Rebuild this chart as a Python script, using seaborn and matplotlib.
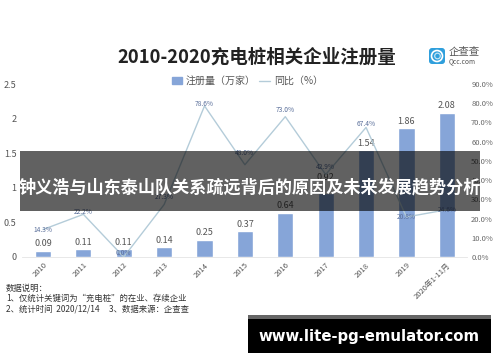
import pandas as pd
import matplotlib
matplotlib.use("Agg")
import matplotlib.pyplot as plt
from matplotlib.patches import Rectangle, Circle, FancyBboxPatch
import seaborn as sns

# data
anos = ["2010", "2011", "2012", "2013", "2014", "2015", "2016", "2017", "2018", "2019", "2020年1-11月"]
registros = [0.09, 0.11, 0.11, 0.14, 0.25, 0.37, 0.64, 0.92, 1.54, 1.86, 2.08]
rotulos = ["0.09", "0.11", "0.11", "0.14", "0.25", "0.37", "0.64", "0.92", "1.54", "1.86", "2.08"]
yoy = [14.3, 22.2, 0.0, 27.3, 78.6, 48.0, 73.0, 42.9, 67.4, 20.8, 24.6]
ticks_esq = [0, 0.5, 1, 1.5, 2, 2.5]
labels_esq = ["0", "0.5", "1", "1.5", "2", "2.5"]
ticks_dir = [0, 10, 20, 30, 40, 50, 60, 70, 80, 90]
notas = ["数据说明：", "1、仅统计关键词为“充电桩”的在业、存续企业", "2、统计时间  2020/12/14     3、数据来源：企查查"]

sns.set_theme(style="white")
plt.rcParams["font.family"] = ["Noto Sans CJK SC", "DejaVu Sans"]

W, H = 500, 362
fig = plt.figure(figsize=(W / 100, H / 100), dpi=100)
ax = fig.add_axes([22 / W, 1 - 257 / H, 445 / W, 173 / H])

df = pd.DataFrame({"ano": anos, "registros": registros})
sns.barplot(data=df, x="ano", y="registros", color="#86a5d8", saturation=1, width=0.4, ax=ax)
ax.set_xlim(-0.52, 10.5)
ax.set_ylim(0, 2.5)
ax.set_xlabel("")
ax.set_ylabel("")
ax.set_yticks(ticks_esq)
ax.set_yticklabels(labels_esq, fontsize=6.5, color="#555555")
ax.tick_params(axis="y", length=0, pad=4)
ax.tick_params(axis="x", length=0, pad=3)
ax.set_xticks(range(len(anos)))
ax.set_xticklabels(anos, rotation=45, ha="right", rotation_mode="anchor", fontsize=5.5, color="#555555")
sns.despine(ax=ax, left=True, right=True, top=True)
ax.spines["bottom"].set_color("#e4e4e4")
ax.spines["bottom"].set_linewidth(0.6)

# 2017 fica mais alto no original
for i, v in enumerate(registros):
    extra = 0.12 if i == 7 else 0
    ax.text(i, v + 0.04 + extra, rotulos[i], ha="center", va="bottom", fontsize=6.5, color="#555555", zorder=5)

ax2 = ax.twinx()
sns.lineplot(x=list(range(len(anos))), y=yoy, color="#b4ccd9", linewidth=1, ax=ax2)
ax2.set_ylim(0, 90)
ax2.set_yticks(ticks_dir)
ax2.set_yticklabels([f"{t}.0%" for t in ticks_dir], fontsize=5.5, color="#666666")
ax2.tick_params(axis="y", length=0, pad=3)
ax2.grid(False)
sns.despine(ax=ax2, left=True, right=True, top=True, bottom=True)

# deslocamento dos rotulos em pontos de pct
desloc = [0, 1, 2, 4, 1, 6, 3.5, 4, 2, 0, 0]
for i, v in enumerate(yoy):
    ax2.text(i, v + desloc[i], f"{v}%", ha="center", va="center", fontsize=4.8, color="#5a6f9a", zorder=5)

# titulo e legenda
fig.text(256.5 / W, 1 - 57 / H, "2010-2020充电桩相关企业注册量", ha="center", va="center",
         fontsize=13.3, fontweight="bold", color="#222222")
fig.add_artist(Rectangle((172 / W, 1 - 84 / H), 10 / W, 7 / H, color="#86a5d8", transform=fig.transFigure))
fig.text(186 / W, 1 - 80.5 / H, "注册量（万家）", ha="left", va="center", fontsize=7.2, color="#555555")
fig.add_artist(plt.Line2D([259 / W, 270 / W], [1 - 81 / H] * 2, color="#b4ccd9", lw=1, transform=fig.transFigure))
fig.text(274 / W, 1 - 80.5 / H, "同比（%）", ha="left", va="center", fontsize=7.2, color="#555555")

# logo
logo = fig.add_axes([428 / W, 1 - 65 / H, 18 / W, 18 / H])
logo.set_xlim(0, 18)
logo.set_ylim(0, 18)
logo.axis("off")
logo.add_patch(FancyBboxPatch((1, 1), 16, 16, boxstyle="round,pad=0,rounding_size=3", facecolor="#2f9fdc", edgecolor="none"))
logo.add_patch(Circle((9, 9), 5.5, facecolor="none", edgecolor="white", linewidth=1.2))
logo.add_patch(Circle((9.5, 9), 2.8, facecolor="none", edgecolor="#bfe3f5", linewidth=0.9))
fig.text(449 / W, 1 - 52 / H, "企查查", ha="left", va="center", fontsize=7.5, color="#555555")
fig.text(449 / W, 1 - 61 / H, "Qcc.com", ha="left", va="center", fontsize=4.8, color="#555555")

# notas
for y, n in zip([288, 298, 309], notas):
    fig.text(6 / W, 1 - y / H, n, ha="left", va="center", fontsize=6, color="#333333")

# faixa do titulo por cima
fig.add_artist(Rectangle((20 / W, 1 - 211 / H), 460 / W, 60 / H, facecolor="black", alpha=0.62, edgecolor="none",
                         transform=fig.transFigure, zorder=10))
fig.text(249.5 / W, 1 - 187 / H, "钟义浩与山东泰山队关系疏远背后的原因及未来发展趋势分析", ha="center", va="center",
         fontsize=12.3, fontweight="bold", color="white", zorder=11)

# rodape
fig.add_artist(Rectangle((248 / W, 1 - 319 / H), 243 / W, 4 / H, facecolor="#666666", edgecolor="none",
                         transform=fig.transFigure, zorder=10))
fig.add_artist(Rectangle((248 / W, 1 - 353 / H), 243 / W, 34 / H, facecolor="black", edgecolor="none",
                         transform=fig.transFigure, zorder=10))
fig.text(369 / W, 1 - 336 / H, "www.lite-pg-emulator.com", ha="center", va="center", fontsize=10.7, fontweight="bold",
         color="white", family="DejaVu Sans", zorder=11)

fig.savefig("out.png", dpi=100)
